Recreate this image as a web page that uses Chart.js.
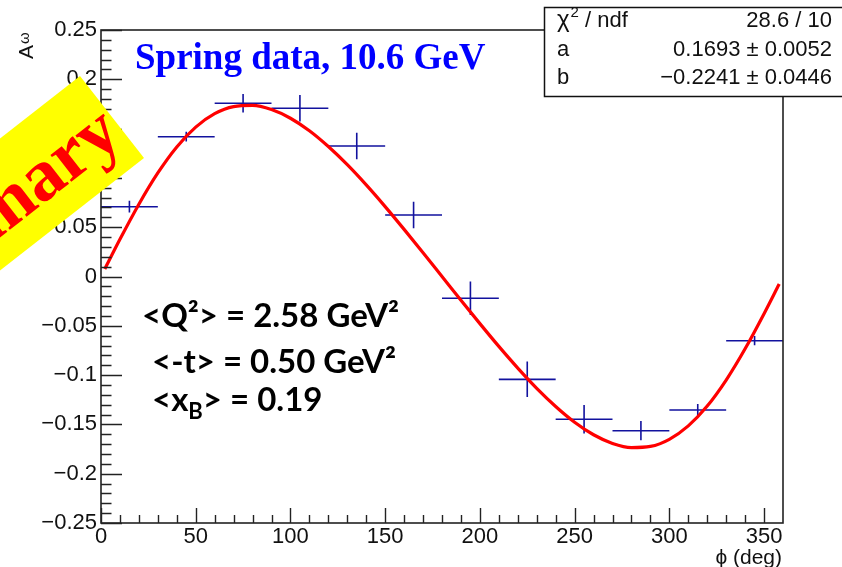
<!DOCTYPE html>
<html><head><meta charset="utf-8">
<script src="https://cdn.jsdelivr.net/npm/chart.js@4/dist/chart.umd.min.js"></script>
<style>html,body{margin:0;padding:0;background:#fff;}#wrap{width:842px;height:567px;position:relative;}</style>
</head><body><div id="wrap"><canvas id="c" width="842" height="567"></canvas></div>
<script>
// ---- data ----
const binCenters   = [15, 45, 75, 105, 135, 165, 195, 225, 255, 285, 315, 345];
const binHalfWidth = [15, 15, 15, 15, 15, 15, 15, 15, 15, 15, 15, 15];
const asymValues   = [0.0708, 0.1418, 0.1757, 0.1706, 0.1324, 0.0624, -0.0221, -0.1043, -0.1448, -0.1564, -0.1354, -0.0651];
const asymErrors   = [0.006, 0.005, 0.0093, 0.0135, 0.0135, 0.0135, 0.017, 0.018, 0.0144, 0.0098, 0.006, 0.0047];
const fitPhi    = [2,10,20,30,40,50,60,70,80,90,100,110,120,130,140,150,160,170,180,190,200,210,220,230,240,250,260,270,280,290,300,310,320,330,340,350,358];
const fitValues = [0.0076,0.0377,0.0733,0.1050,0.1314,0.1515,0.1651,0.1723,0.1735,0.1693,0.1605,0.1478,0.1318,0.1134,0.0929,0.0709,0.0478,0.0241,0.0,-0.0241,-0.0478,-0.0709,-0.0929,-0.1134,-0.1318,-0.1478,-0.1605,-0.1693,-0.1735,-0.1723,-0.1651,-0.1515,-0.1314,-0.1050,-0.0733,-0.0377,-0.0076];
const xTickLabels = ['0','50','100','150','200','250','300','350'];
const yTickLabels = ['\u22120.25','\u22120.2','\u22120.15','\u22120.1','\u22120.05','0','0.05','0.1','0.15','0.2','0.25'];
const xMinorTicks = [10,20,30,40,60,70,80,90,110,120,130,140,160,170,180,190,210,220,230,240,260,270,280,290,310,320,330,340,350];
const statsRows = [['\u03C7', '28.6 / 10'], ['a', '0.1693 \u00B1 0.0052'], ['b', '\u22120.2241 \u00B1 0.0446']];

const BLUE = '#12129e';
const AX = '#222';
const NARROW = '"Liberation Sans Narrow", "Arial Narrow", "Liberation Sans", sans-serif';

const errorBars = {
  id: 'errorBars',
  beforeDatasetsDraw(chart) {
    const {ctx, scales: {x, y}} = chart;
    ctx.save();
    ctx.strokeStyle = BLUE; ctx.lineWidth = 1.6;
    ctx.beginPath();
    for (let i = 0; i < binCenters.length; i++) {
      const px = x.getPixelForValue(binCenters[i]);
      const py = y.getPixelForValue(asymValues[i]);
      const x0 = x.getPixelForValue(binCenters[i] - binHalfWidth[i]);
      const x1 = x.getPixelForValue(binCenters[i] + binHalfWidth[i]);
      const y0 = y.getPixelForValue(asymValues[i] - asymErrors[i]);
      const y1 = y.getPixelForValue(asymValues[i] + asymErrors[i]);
      ctx.moveTo(x0, py); ctx.lineTo(x1, py);
      ctx.moveTo(px, y0); ctx.lineTo(px, y1);
    }
    ctx.stroke();
    ctx.restore();
  }
};

const decor = {
  id: 'decor',
  afterDraw(chart) {
    const {ctx, chartArea: ca, scales: {x, y}} = chart;
    ctx.save();
    // frame
    ctx.strokeStyle = AX; ctx.lineWidth = 1.6;
    ctx.strokeRect(ca.left, ca.top, ca.right - ca.left, ca.bottom - ca.top);
    // ticks
    ctx.lineWidth = 1.4;
    ctx.beginPath();
    for (let v = -25; v <= 25; v++) {
      const py = Math.round(y.getPixelForValue(v / 100)) + 0.5;
      const len = (v % 5 === 0) ? 21 : 10.5;
      ctx.moveTo(ca.left, py); ctx.lineTo(ca.left + len, py);
    }
    x.ticks.forEach(t => {
      const px = Math.round(x.getPixelForValue(t.value)) + 0.5;
      ctx.moveTo(px, ca.bottom); ctx.lineTo(px, ca.bottom - 15);
    });
    xMinorTicks.forEach(v => {
      const px = Math.round(x.getPixelForValue(v)) + 0.5;
      ctx.moveTo(px, ca.bottom); ctx.lineTo(px, ca.bottom - 8);
    });
    ctx.stroke();

    // axis titles
    ctx.fillStyle = '#111';
    ctx.font = '21px ' + NARROW;
    ctx.textAlign = 'right'; ctx.textBaseline = 'alphabetic';
    ctx.fillText('\u03D5 (deg)', 782, 564);
    ctx.save();
    ctx.translate(33, 59); ctx.rotate(-Math.PI / 2);
    ctx.textAlign = 'left';
    ctx.font = '21px "Liberation Sans", sans-serif';
    ctx.fillText('A', 0, 0);
    const aw = ctx.measureText('A').width;
    ctx.font = '15px "Liberation Sans", "DejaVu Sans", sans-serif';
    ctx.fillText('\u03C9', aw + 1, -4);
    ctx.restore();

    // blue title
    ctx.fillStyle = '#0000ff';
    ctx.textAlign = 'left';
    ctx.font = 'bold 37px "Liberation Serif", serif';
    ctx.fillText('Spring data, 10.6 GeV', 135, 69);

    // kinematics
    ctx.fillStyle = '#000';
    const KF = 'bold 33px Lato, "Open Sans", sans-serif';
    ctx.font = KF;
    ctx.fillText('<Q\u00B2> = 2.58 GeV\u00B2', 142, 327);
    ctx.fillText('<-t> = 0.50 GeV\u00B2', 152, 373);
    let cx = 152;
    ctx.fillText('<x', cx, 411); cx += ctx.measureText('<x').width;
    ctx.font = 'bold 22px Lato, "Open Sans", sans-serif';
    ctx.fillText('B', cx, 419); cx += ctx.measureText('B').width;
    ctx.font = KF;
    ctx.fillText('> = 0.19', cx, 411);

    // Preliminary banner
    ctx.save();
    ctx.translate(112, 117);
    ctx.rotate(-38 * Math.PI / 180);
    ctx.fillStyle = '#ffff00';
    ctx.fillRect(-420, -52, 420, 104);
    ctx.fillStyle = '#ff0000';
    ctx.font = 'bold 74px "Liberation Serif", serif';
    ctx.textAlign = 'right'; ctx.textBaseline = 'alphabetic';
    ctx.fillText('Preliminary', -4, 26);
    ctx.restore();

    // stats box
    ctx.fillStyle = '#fff';
    ctx.fillRect(544, 7, 310, 90);
    ctx.strokeStyle = '#111'; ctx.lineWidth = 1.5;
    ctx.strokeRect(544.5, 7.5, 310, 89);
    ctx.fillStyle = '#111';
    const rowsY = [27, 56, 84];
    const SF = '22px ' + '"Liberation Sans", sans-serif';
    statsRows.forEach((r, i) => {
      ctx.textAlign = 'left';
      ctx.font = SF;
      if (i === 0) {
        ctx.font = '24px "Liberation Sans", "DejaVu Sans", sans-serif';
        ctx.fillText(r[0], 557, rowsY[i]);
        let w = ctx.measureText(r[0]).width;
        ctx.font = '15px "Liberation Sans", sans-serif';
        ctx.fillText('2', 557 + w + 1, rowsY[i] - 10);
        const w2 = ctx.measureText('2').width;
        ctx.font = SF;
        ctx.fillText(' / ndf', 557 + w + 1 + w2, rowsY[i]);
      } else {
        ctx.fillText(r[0], 557, rowsY[i]);
      }
      ctx.font = SF;
      ctx.textAlign = 'right';
      ctx.fillText(r[1], 832, rowsY[i]);
    });
    ctx.restore();
  }
};

new Chart(document.getElementById('c'), {
  type: 'scatter',
  data: {
    datasets: [
      { label: 'data', data: binCenters.map((v, i) => ({x: v, y: asymValues[i]})), pointRadius: 0, showLine: false },
      { label: 'fit', data: fitPhi.map((v, i) => ({x: v, y: fitValues[i]})), showLine: true,
        borderColor: '#ff0000', borderWidth: 3.2, pointRadius: 0, cubicInterpolationMode: 'monotone', fill: false }
    ]
  },
  options: {
    responsive: false, animation: false, devicePixelRatio: 1,
    layout: { padding: { top: 30, right: 59, left: 0, bottom: 0 } },
    plugins: { legend: { display: false }, tooltip: { enabled: false } },
    scales: {
      x: {
        type: 'linear', min: 0, max: 360,
        grid: { display: false, drawTicks: false }, border: { display: false },
        ticks: { stepSize: 50, includeBounds: false, autoSkip: false, maxRotation: 0, padding: 1,
          color: '#111', font: { family: NARROW, size: 22 },
          callback: (v, i) => xTickLabels[i] ?? '' },
        afterFit: s => { s.height = 44; }
      },
      y: {
        type: 'linear', min: -0.25, max: 0.25,
        grid: { display: false, drawTicks: false }, border: { display: false },
        ticks: { stepSize: 0.05, includeBounds: false, autoSkip: false, padding: 4,
          color: '#111', font: { family: NARROW, size: 22 },
          callback: (v, i) => yTickLabels[i] ?? '' },
        afterFit: s => { s.width = 101; }
      }
    }
  },
  plugins: [errorBars, decor]
});
</script></body></html>
